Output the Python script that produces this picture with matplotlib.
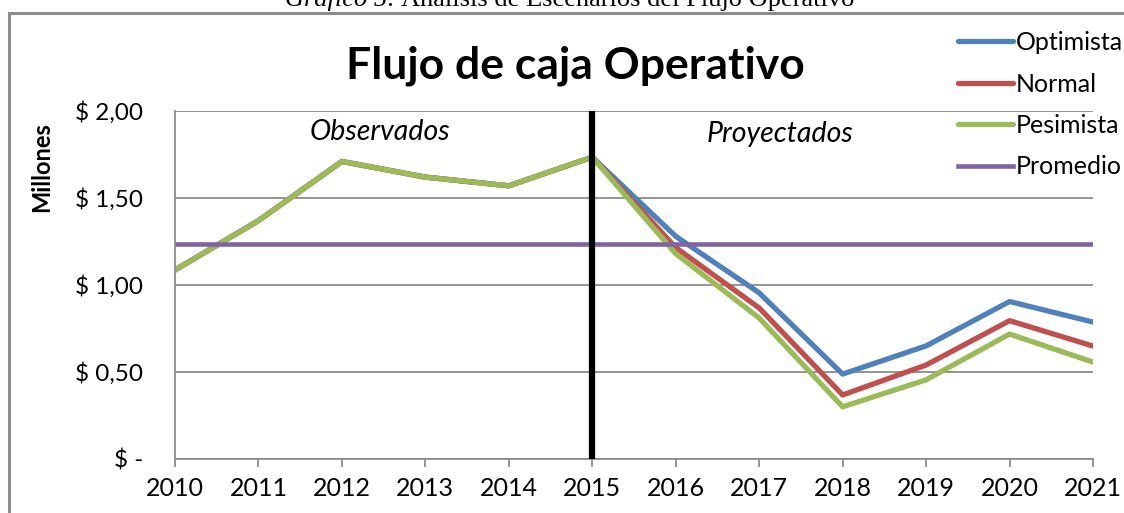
import matplotlib.pyplot as plt
from matplotlib.patches import Rectangle
from matplotlib.transforms import offset_copy

plt.rcParams['font.family'] = ['Lato', 'DejaVu Sans']

years = [2010, 2011, 2012, 2013, 2014, 2015, 2016, 2017, 2018, 2019, 2020, 2021]
optimista = [1.086, 1.37, 1.71, 1.62, 1.57, 1.735, 1.28, 0.955, 0.488, 0.65, 0.905, 0.787]
normal = [1.086, 1.37, 1.71, 1.62, 1.57, 1.735, 1.215, 0.868, 0.368, 0.54, 0.795, 0.649]
pesimista = [1.086, 1.37, 1.71, 1.62, 1.57, 1.735, 1.18, 0.81, 0.30, 0.455, 0.718, 0.557]
promedio = 1.235
corte = 2015

yticks = [0, 0.5, 1.0, 1.5, 2.0]
ylabels = ['$ -', '$ 0,50', '$ 1,00', '$ 1,50', '$ 2,00']

fig = plt.figure(figsize=(11.24, 5.13), dpi=100)
ax = fig.add_axes([175/1124, 1-459/513, (1093-175)/1124, (459-111)/513])

# marco del grafico
fig.patches.append(Rectangle((9/1124, -0.05), 1.2, 1-13/513+0.05, transform=fig.transFigure,
                             fill=False, edgecolor='#8c8c8c', linewidth=2.2))

# leyenda del documento (cortada arriba): parte en cursiva + resto normal
t1 = fig.text(285/1124, 1-6/513, 'Gráfico 5:', family='Liberation Serif', fontsize=19,
              ha='left', va='baseline', style='italic')
fig.canvas.draw()
w = t1.get_window_extent().width
fig.text(285/1124, 1-6/513, ' Análisis de Escenarios del Flujo Operativo',
         family='Liberation Serif', fontsize=19, ha='left', va='baseline',
         transform=offset_copy(fig.transFigure, fig=fig, x=w * 72 / fig.dpi, units='points'))

ax.plot(years, optimista, color='#4F81BD', lw=3.8, label='Optimista', solid_capstyle='round')
ax.plot(years, normal, color='#C0504D', lw=3.8, label='Normal', solid_capstyle='round')
ax.plot(years, pesimista, color='#9BBB59', lw=3.8, label='Pesimista', solid_capstyle='round')
ax.plot(years, [promedio] * len(years), color='#8064A2', lw=3.3, label='Promedio')
ax.axvline(corte, color='black', lw=4.5, zorder=5)

ax.set_xlim(years[0], years[-1])
ax.set_ylim(0, 2.0)
ax.set_xticks(years)
ax.set_xticklabels([str(y) for y in years], fontsize=18)
ax.set_yticks(yticks)
ax.set_yticklabels(ylabels, fontsize=17.5)
ax.grid(axis='y', color='#8c8c8c', lw=1.3)
ax.set_axisbelow(True)
for s in ['top', 'right']:
    ax.spines[s].set_visible(False)
for s in ['left', 'bottom']:
    ax.spines[s].set_color('#8c8c8c')
    ax.spines[s].set_linewidth(1.3)
ax.tick_params(axis='x', length=6, width=1.3, color='#8c8c8c', pad=7)
ax.tick_params(axis='y', length=0, pad=23)
ax.set_ylabel('Millones', fontsize=17, fontweight='bold')
ax.yaxis.set_label_coords(-0.133, 0.839)

ax.text(2012.45, 1.88, 'Observados', fontsize=20.5, style='italic', ha='center', va='center')
ax.text(2017.25, 1.865, 'Proyectados', fontsize=20.5, style='italic', ha='center', va='center')

fig.text(575/1124, 1-66/513, 'Flujo de caja Operativo', fontsize=32, fontweight='bold',
         ha='center', va='center')

fig.legend(loc='upper left', bbox_to_anchor=(948/1124, 1-21/513), frameon=False, fontsize=18,
           handlelength=2.2, handletextpad=0.1, labelspacing=0.74, borderaxespad=0)

fig.savefig('out.png', dpi=100)
